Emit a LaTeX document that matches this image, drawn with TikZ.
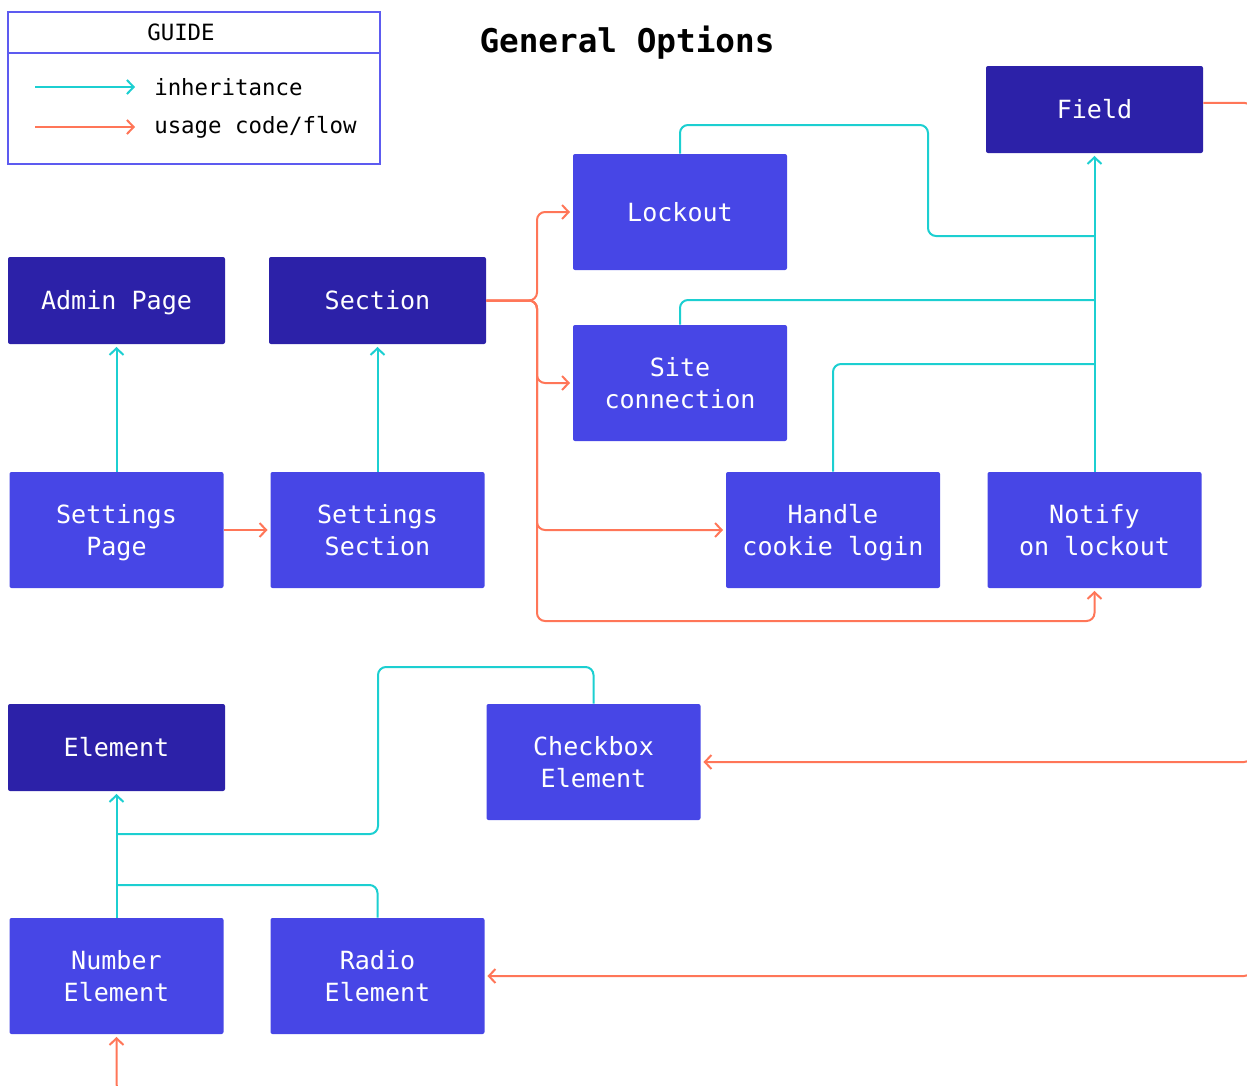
\documentclass[tikz,border=0pt]{standalone}
\usepackage{fontspec}
\setmonofont{DejaVu Sans Mono}
\usetikzlibrary{arrows.meta}

\definecolor{navy}{HTML}{2C21A8}
\definecolor{indigo}{HTML}{4746E6}
\definecolor{aqua}{HTML}{1CCFD1}
\definecolor{coral}{HTML}{FF7658}
\definecolor{guideblue}{HTML}{5D5BF0}

\newcommand\boxfont{\ttfamily\fontsize{18.8}{24}\selectfont}
\newcommand\guidefont{\ttfamily\fontsize{16.8}{22}\selectfont}

\tikzset{
    darkbox/.style={fill=navy, text=white, rounded corners=1.5pt, align=center,
        minimum width=162.75pt, minimum height=65.25pt, font=\boxfont,
        text height=18pt, text depth=4pt},
    lightbox/.style={fill=indigo, text=white, rounded corners=1.5pt, align=center,
        minimum width=160.5pt, minimum height=87pt, font=\boxfont,
        text height=18pt, text depth=4pt},
    twolines/.style={text height=42pt},
    inhline/.style={draw=aqua, line width=1.5pt, rounded corners=6pt},
    useline/.style={draw=coral, line width=1.5pt, rounded corners=6pt},
    arrowed/.style={-{Straight Barb[length=5pt,width=10.5pt]}, shorten >=2pt},
    guideline/.style={draw=guideblue, line width=0.8pt}
}

\begin{document}
\begin{tikzpicture}[x=0.75pt,y=-0.75pt]
    \useasboundingbox (0,0) rectangle (1247,1086);
    \clip (0,0) rectangle (1247,1086);

    % guide
    \draw[guideline] (8,12) rectangle (380,164);
    \draw[guideline] (8,53) -- (380,53);
    \node[font=\guidefont] (guidetitle) at (181,32) {GUIDE};
    \coordinate (inhfrom) at (35,87);
    \coordinate (inhto) at (135,87);
    \coordinate (usefrom) at (35,127);
    \coordinate (useto) at (135,127);
    \draw[inhline,arrowed,shorten >=0pt] (inhfrom) -- (inhto);
    \draw[useline,arrowed,shorten >=0pt] (usefrom) -- (useto);
    \node[font=\guidefont, anchor=west, inner sep=0pt] (inhtext) at (154,87) {inheritance};
    \node[font=\guidefont, anchor=west, inner sep=0pt] (usetext) at (154,127) {usage code/flow};

    \node[font=\ttfamily\bfseries\fontsize{24.5}{30}\selectfont] (title) at (627,43) {General Options};

    % boxes
    \node[darkbox] (field) at (1094.5,109.5) {Field};
    \node[lightbox] (lockout) at (680,212) {Lockout};
    \node[darkbox] (adminpage) at (116.5,300.5) {Admin Page};
    \node[darkbox] (section) at (377.5,300.5) {Section};
    \node[lightbox,twolines] (siteconn) at (680,383) {Site\\connection};
    \node[lightbox,twolines] (setpage) at (116.5,530) {Settings\\Page};
    \node[lightbox,twolines] (setsection) at (377.5,530) {Settings\\Section};
    \node[lightbox,twolines] (cookie) at (833,530) {Handle\\cookie login};
    \node[lightbox,twolines] (notify) at (1094.5,530) {Notify\\on lockout};
    \node[darkbox] (element) at (116.5,747.5) {Element};
    \node[lightbox,twolines] (checkbox) at (593.5,762) {Checkbox\\Element};
    \node[lightbox,twolines] (number) at (116.5,976) {Number\\Element};
    \node[lightbox,twolines] (radio) at (377.5,976) {Radio\\Element};

    % inheritance
    \draw[inhline,arrowed] (setpage.north) -- (adminpage.south);
    \draw[inhline,arrowed] (setsection.north) -- (section.south);
    \coordinate (lockhi) at (928,125);
    \coordinate (locklo) at (928,236);
    \coordinate (siteline) at (1094.5,300);
    \coordinate (cookieline) at (1094.5,364);
    \draw[inhline] (lockout.north) |- (lockhi) -- (locklo) -- (locklo -| field.south);
    \draw[inhline] (siteconn.north) |- (siteline);
    \draw[inhline] (cookie.north) |- (cookieline);
    \draw[inhline,arrowed] (notify.north) -- (field.south);

    \coordinate (boxhi) at (378,667);
    \coordinate (boxlo) at (378,834);
    \coordinate (radiojoin) at (116.5,885);
    \draw[inhline] (checkbox.north) |- (boxhi) -- (boxlo) -- (boxlo -| element.south);
    \draw[inhline] (radio.north) |- (radiojoin);
    \draw[inhline,arrowed] (number.north) -- (element.south);

    % usage / flow
    \draw[useline,arrowed] (setpage.east) -- (setsection.west);
    \coordinate (fork) at (537,300.5);
    \coordinate (forkfoot) at (537,621);
    \draw[useline,arrowed] (section.east) -- (fork) |- (lockout.west);
    \draw[useline,arrowed] (section.east) -- (fork) |- (siteconn.west);
    \draw[useline,arrowed] (section.east) -- (fork) |- (cookie.west);
    \draw[useline,arrowed] (section.east) -- (fork) -- (forkfoot) -| (notify.south);

    \coordinate (railtop) at (1252,110);
    \coordinate (railfoot) at (1252,1092);
    \draw[useline] ([yshift=5pt]field.east) -| (railfoot);
    \draw[useline,arrowed] (railtop) |- (checkbox.east);
    \draw[useline,arrowed] (railtop) |- (radio.east);
    \draw[useline,arrowed] (railtop) -- (railfoot) -| (number.south);
\end{tikzpicture}
\end{document}
